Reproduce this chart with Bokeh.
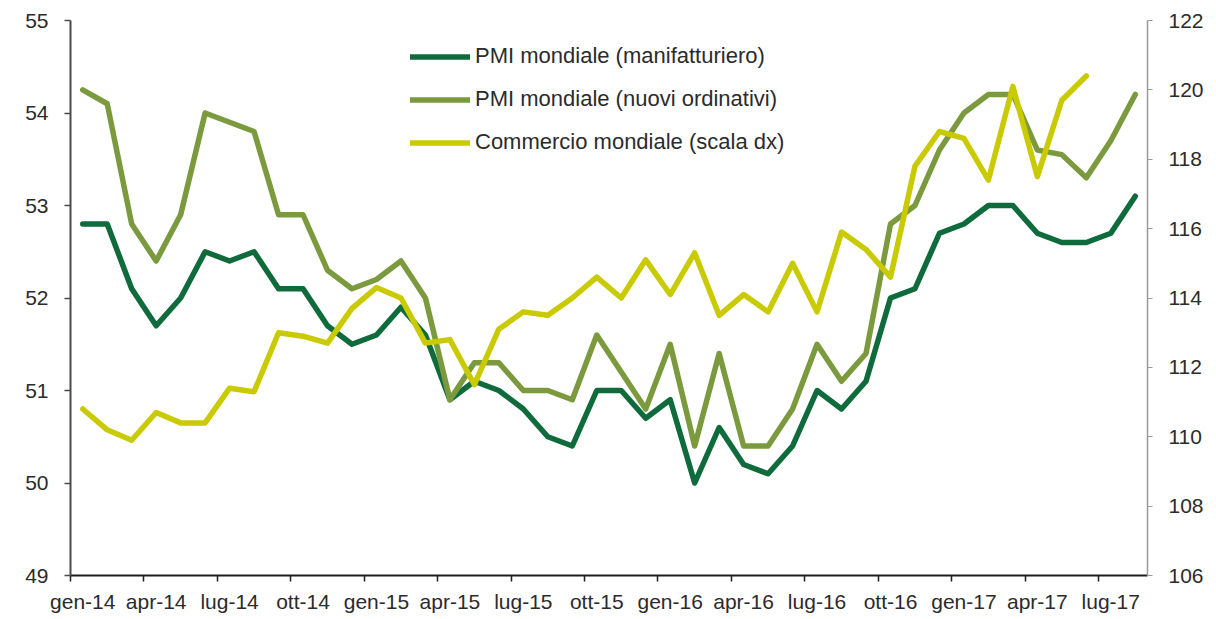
from bokeh.plotting import figure
from bokeh.models import Range1d, LinearAxis, FixedTicker, Legend, LegendItem
from bokeh.embed import file_html
from bokeh.resources import INLINE

mesi = ["gen-14", "feb-14", "mar-14", "apr-14", "mag-14", "giu-14", "lug-14", "ago-14", "set-14", "ott-14", "nov-14", "dic-14",
        "gen-15", "feb-15", "mar-15", "apr-15", "mag-15", "giu-15", "lug-15", "ago-15", "set-15", "ott-15", "nov-15", "dic-15",
        "gen-16", "feb-16", "mar-16", "apr-16", "mag-16", "giu-16", "lug-16", "ago-16", "set-16", "ott-16", "nov-16", "dic-16",
        "gen-17", "feb-17", "mar-17", "apr-17", "mag-17", "giu-17", "lug-17", "ago-17"]

pmi_manifatturiero = [52.8, 52.8, 52.1, 51.7, 52.0, 52.5, 52.4, 52.5, 52.1, 52.1, 51.7, 51.5,
                      51.6, 51.9, 51.6, 50.9, 51.1, 51.0, 50.8, 50.5, 50.4, 51.0, 51.0, 50.7,
                      50.9, 50.0, 50.6, 50.2, 50.1, 50.4, 51.0, 50.8, 51.1, 52.0, 52.1, 52.7,
                      52.8, 53.0, 53.0, 52.7, 52.6, 52.6, 52.7, 53.1]

pmi_ordinativi = [54.25, 54.1, 52.8, 52.4, 52.9, 54.0, 53.9, 53.8, 52.9, 52.9, 52.3, 52.1,
                  52.2, 52.4, 52.0, 50.9, 51.3, 51.3, 51.0, 51.0, 50.9, 51.6, 51.2, 50.8,
                  51.5, 50.4, 51.4, 50.4, 50.4, 50.8, 51.5, 51.1, 51.4, 52.8, 53.0, 53.6,
                  54.0, 54.2, 54.2, 53.6, 53.55, 53.3, 53.7, 54.2]

commercio_mondiale = [110.8, 110.2, 109.9, 110.7, 110.4, 110.4, 111.4, 111.3, 113.0, 112.9, 112.7, 113.7,
                      114.3, 114.0, 112.7, 112.8, 111.5, 113.1, 113.6, 113.5, 114.0, 114.6, 114.0, 115.1,
                      114.1, 115.3, 113.5, 114.1, 113.6, 115.0, 113.6, 115.9, 115.4, 114.6, 117.8, 118.8,
                      118.6, 117.4, 120.1, 117.5, 119.7, 120.4]

etichette_x = ["gen-14", "apr-14", "lug-14", "ott-14", "gen-15", "apr-15", "lug-15", "ott-15",
               "gen-16", "apr-16", "lug-16", "ott-16", "gen-17", "apr-17", "lug-17"]
tick_sx = [49, 50, 51, 52, 53, 54, 55]
tick_dx = [106, 108, 110, 112, 114, 116, 118, 120, 122]

nomi = ["PMI mondiale (manifatturiero)", "PMI mondiale (nuovi ordinativi)", "Commercio mondiale (scala dx)"]
colori = ["#0f6b3c", "#7b9a3e", "#c9ca00"]

FONT = "Liberation Sans"
TXT = "#2b2b2b"

idx = list(range(len(mesi)))

p = figure(width=1208, height=615, x_range=Range1d(-0.5, len(mesi) - 0.5), y_range=Range1d(49, 55),
           output_backend="svg", toolbar_location=None, x_axis_location=None, y_axis_location=None,
           min_border_left=70, min_border_right=61, min_border_top=20, min_border_bottom=0,
           outline_line_color=None, background_fill_color="white", border_fill_color="white")
p.extra_y_ranges = {"dx": Range1d(106, 122)}
p.grid.visible = False

label_pos = [mesi.index(e) for e in etichette_x]
bottom = LinearAxis(
    ticker=FixedTicker(ticks=label_pos, minor_ticks=[i - 0.5 for i in label_pos]),
    major_label_overrides={i: mesi[i] for i in label_pos},
    axis_line_color="#1f1f1f", axis_line_width=2,
    major_tick_line_color=None, major_tick_out=6, major_tick_in=0,
    minor_tick_line_color="#1f1f1f", minor_tick_line_width=1.5, minor_tick_out=6, minor_tick_in=0,
    major_label_standoff=8, major_label_text_font=FONT, major_label_text_font_size="21px",
    major_label_text_color=TXT)
p.add_layout(bottom, "below")

left = LinearAxis(
    ticker=FixedTicker(ticks=tick_sx, minor_ticks=[]),
    axis_line_color="#4a4a4a", axis_line_width=2,
    major_tick_line_color="#4a4a4a", major_tick_line_width=1.5, major_tick_out=6, major_tick_in=0,
    minor_tick_line_color=None,
    major_label_standoff=16, major_label_text_font=FONT, major_label_text_font_size="21px",
    major_label_text_color=TXT)
p.add_layout(left, "left")

right = LinearAxis(
    y_range_name="dx",
    ticker=FixedTicker(ticks=tick_dx, minor_ticks=[]),
    axis_line_color="#9a9a9a", axis_line_width=1.5,
    major_tick_line_color="#9a9a9a", major_tick_line_width=1.2, major_tick_out=5, major_tick_in=0,
    minor_tick_line_color=None,
    major_label_standoff=16, major_label_text_font=FONT, major_label_text_font_size="21px",
    major_label_text_color=TXT)
p.add_layout(right, "right")

r1 = p.line(idx, pmi_manifatturiero, line_color=colori[0], line_width=5.5, line_join="round", line_cap="round")
r2 = p.line(idx, pmi_ordinativi, line_color=colori[1], line_width=5.5, line_join="round", line_cap="round")
r3 = p.line(idx[:len(commercio_mondiale)], commercio_mondiale, line_color=colori[2], line_width=5.5,
            line_join="round", line_cap="round", y_range_name="dx")

legend = Legend(items=[LegendItem(label=nomi[0], renderers=[r1]),
                       LegendItem(label=nomi[1], renderers=[r2]),
                       LegendItem(label=nomi[2], renderers=[r3])],
                location=(340, 420), orientation="vertical",
                border_line_color=None, background_fill_alpha=0, padding=0, margin=0,
                spacing=17, glyph_width=60, glyph_height=25, label_height=25, label_standoff=5,
                label_text_font=FONT, label_text_font_size="22px", label_text_color=TXT)
p.add_layout(legend, "center")

open("out.html", "w").write(file_html(p, INLINE))
